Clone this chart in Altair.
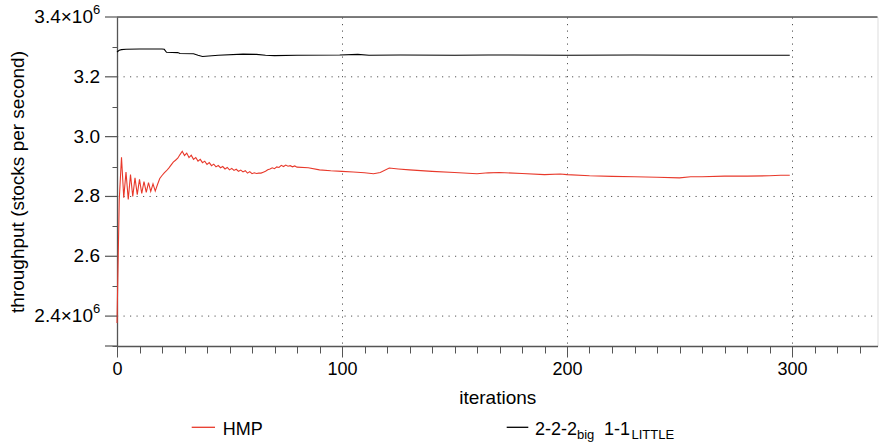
import altair as alt
import pandas as pd

# HMP throughput (x10^6 stocks per second) per iteration
hmp_iter = list(range(0, 81)) + [85, 90, 95, 100, 105, 110, 114, 117, 121, 125, 130, 140,
                                  150, 160, 165, 170, 180, 190, 197, 200, 210, 220, 230,
                                  240, 250, 255, 260, 270, 280, 290, 295, 299]
hmp_tput = [2.377, 2.790, 2.931, 2.796, 2.882, 2.790, 2.873, 2.800, 2.862, 2.806,
            2.857, 2.810, 2.850, 2.814, 2.846, 2.817, 2.842, 2.818, 2.840, 2.860,
            2.870, 2.879, 2.886, 2.895, 2.905, 2.915, 2.921, 2.928, 2.940, 2.951,
            2.937, 2.945, 2.930, 2.938, 2.924, 2.930, 2.918, 2.924, 2.913, 2.918,
            2.907, 2.913, 2.903, 2.908, 2.899, 2.904, 2.896, 2.900, 2.892, 2.897,
            2.889, 2.894, 2.887, 2.891, 2.884, 2.888, 2.882, 2.886, 2.878, 2.883,
            2.876, 2.879, 2.877, 2.878, 2.878, 2.881, 2.884, 2.889, 2.892, 2.896,
            2.893, 2.899, 2.897, 2.904, 2.900, 2.905, 2.901, 2.903, 2.899, 2.902,
            2.898,
            2.896, 2.889, 2.886, 2.884, 2.882, 2.879, 2.876, 2.880, 2.895, 2.892,
            2.889, 2.884, 2.880, 2.876, 2.879, 2.880, 2.877, 2.873, 2.875, 2.873,
            2.869, 2.867, 2.866, 2.864, 2.862, 2.866, 2.866, 2.868, 2.868, 2.869,
            2.871, 2.871]

# 2-2-2big 1-1LITTLE throughput (x10^6 stocks per second)
big_iter = [0, 1, 2, 4, 10, 20, 21, 22, 27, 28, 34, 36, 38, 45, 56, 62, 66, 70, 80,
            99, 107, 112, 126, 150, 165, 200, 230, 260, 299]
big_tput = [3.283, 3.289, 3.291, 3.292, 3.293, 3.293, 3.292, 3.282, 3.281, 3.278,
            3.277, 3.272, 3.268, 3.272, 3.276, 3.275, 3.272, 3.271, 3.272,
            3.273, 3.275, 3.272, 3.273, 3.272, 3.273, 3.272, 3.273, 3.272, 3.272]

series_names = ["HMP", "2-2-2big 1-1LITTLE"]
series_colors = ["#e8392b", "#000000"]

x_ticks = list(range(0, 340, 10))
y_minor_ticks = [2.3, 2.4, 2.5, 2.6, 2.7, 2.8, 2.9, 3.0, 3.1, 3.2, 3.3, 3.4]
y_major_ticks = [2.3, 2.4, 2.6, 2.8, 3.0, 3.2, 3.4]
y_grid_values = [2.4, 2.6, 2.8, 3.0, 3.2]

# y tick labels: plain ones, and the two carrying a power of ten
y_plain_values = [2.6, 2.8, 3.0, 3.2]
y_plain_labels = ["2.6", "2.8", "3.0", "3.2"]
y_exp_values = [2.4, 3.4]
y_exp_labels = ["2.4×10", "3.4×10"]

FONT = "Liberation Sans"
AXIS_GREY = "#555555"
GRID_GREY = "#555555"
GRID_DASH = [1.2, 5.3]
W, H = 760.5, 329

df = pd.concat([
    pd.DataFrame({"iteration": hmp_iter, "tput": hmp_tput, "series": series_names[0]}),
    pd.DataFrame({"iteration": big_iter, "tput": big_tput, "series": series_names[1]}),
])

x_scale = alt.Scale(domain=[0, 338], nice=False, zero=False)
y_scale = alt.Scale(domain=[2.3, 3.4], nice=False, zero=False)

x_major = "datum.value % 100 === 0"

x_axis = alt.Axis(
    values=x_ticks, title="iterations",
    labelExpr=f"{x_major} ? datum.label : ''",
    labelFlush=False, labelOverlap=False,
    labelFontSize=18, labelColor="black", labelFont=FONT, labelPadding=3,
    tickColor=AXIS_GREY, tickWidth=1,
    tickSize={"condition": {"test": x_major, "value": 11}, "value": 7},
    domainColor=AXIS_GREY, domainWidth=1.3,
    grid=True, gridColor=GRID_GREY, gridDash=GRID_DASH, gridWidth=1,
    gridOpacity={"condition": {"test": f"{x_major} && datum.value > 0", "value": 1}, "value": 0},
    titleFontSize=19, titleFont=FONT, titleFontWeight="normal", titleColor="black",
    titleBaseline="alphabetic", titleY=57,
)

y_axis = alt.Axis(
    values=y_minor_ticks, title="throughput (stocks per second)",
    labels=False, grid=False,
    tickColor=AXIS_GREY, tickWidth=1, tickSize=5,
    domainColor=AXIS_GREY, domainWidth=1.3,
    titleFontSize=19, titleFont=FONT, titleFontWeight="normal", titleColor="black",
    titleAngle=-90, titleBaseline="middle", titleAlign="center",
    titleX=-99.5, titleY=H / 2,
)

# Dotted horizontal grid
y_grid = alt.Chart(pd.DataFrame({"tput": y_grid_values})).mark_rule(
    color=GRID_GREY, strokeWidth=1, strokeDash=GRID_DASH,
).encode(y=alt.Y("tput:Q", scale=y_scale), x=alt.value(0), x2=alt.value(W))

lines = alt.Chart(df).mark_line(strokeWidth=1.1).encode(
    x=alt.X("iteration:Q", scale=x_scale, axis=x_axis),
    y=alt.Y("tput:Q", scale=y_scale, axis=y_axis),
    color=alt.Color("series:N", scale=alt.Scale(domain=series_names, range=series_colors),
                    legend=None),
)

one = pd.DataFrame({"k": [0]})

# Frame line along the top of the plot
top_rule = alt.Chart(one).mark_rule(color=AXIS_GREY, strokeWidth=1.3).encode(
    y=alt.datum(3.4), x=alt.value(0), x2=alt.value(W),
)

# Longer major ticks on the y axis
y_major = alt.Chart(pd.DataFrame({"tput": y_major_ticks})).mark_rule(
    color=AXIS_GREY, strokeWidth=1.2,
).encode(y=alt.Y("tput:Q"), x=alt.value(-12), x2=alt.value(0))

# y tick labels
plain_labels = alt.Chart(pd.DataFrame({"tput": y_plain_values, "lab": y_plain_labels})).mark_text(
    align="right", baseline="middle", fontSize=19, font=FONT, color="black",
).encode(y=alt.Y("tput:Q"), x=alt.value(-17), text="lab:N")

exp_labels = alt.Chart(pd.DataFrame({"tput": y_exp_values, "lab": y_exp_labels})).mark_text(
    align="right", baseline="middle", fontSize=19, font=FONT, color="black",
).encode(y=alt.Y("tput:Q"), x=alt.value(-24), text="lab:N")

exponents = alt.Chart(pd.DataFrame({"tput": y_exp_values})).mark_text(
    text="6", align="left", baseline="middle", dy=-7, fontSize=13, font=FONT, color="black",
).encode(y=alt.Y("tput:Q"), x=alt.value(-24))

# Hand-built legend below the x axis
def legend_rule(x1, x2, color):
    return alt.Chart(one).mark_rule(color=color, strokeWidth=1.3).encode(
        x=alt.value(x1), x2=alt.value(x2), y=alt.value(410.3))

def legend_text(txt, x, y, size):
    return alt.Chart(one).mark_text(
        text=txt, align="left", baseline="alphabetic", fontSize=size, font=FONT, color="black",
    ).encode(x=alt.value(x), y=alt.value(y))

legend = [
    legend_rule(74.7, 98, series_colors[0]),
    legend_text("HMP", 105.7, 418, 18),
    legend_rule(389.7, 411.3, series_colors[1]),
    legend_text("2-2-2", 418, 418, 18),
    legend_text("big", 460, 422, 13),
    legend_text("1-1", 487, 418, 18),
    legend_text("LITTLE", 514.5, 422, 13),
]

chart = alt.layer(y_grid, lines, top_rule, y_major, plain_labels, exp_labels, exponents,
                  *legend).properties(
    width=W, height=H,
    autosize=alt.AutoSizeParams(type="none"),
    padding={"left": 117, "top": 17, "right": 879 - 117 - W, "bottom": 445 - 17 - H},
).configure_view(stroke=None).configure(font=FONT)

chart.save("out.html", embed_options={"renderer": "svg", "actions": False})
